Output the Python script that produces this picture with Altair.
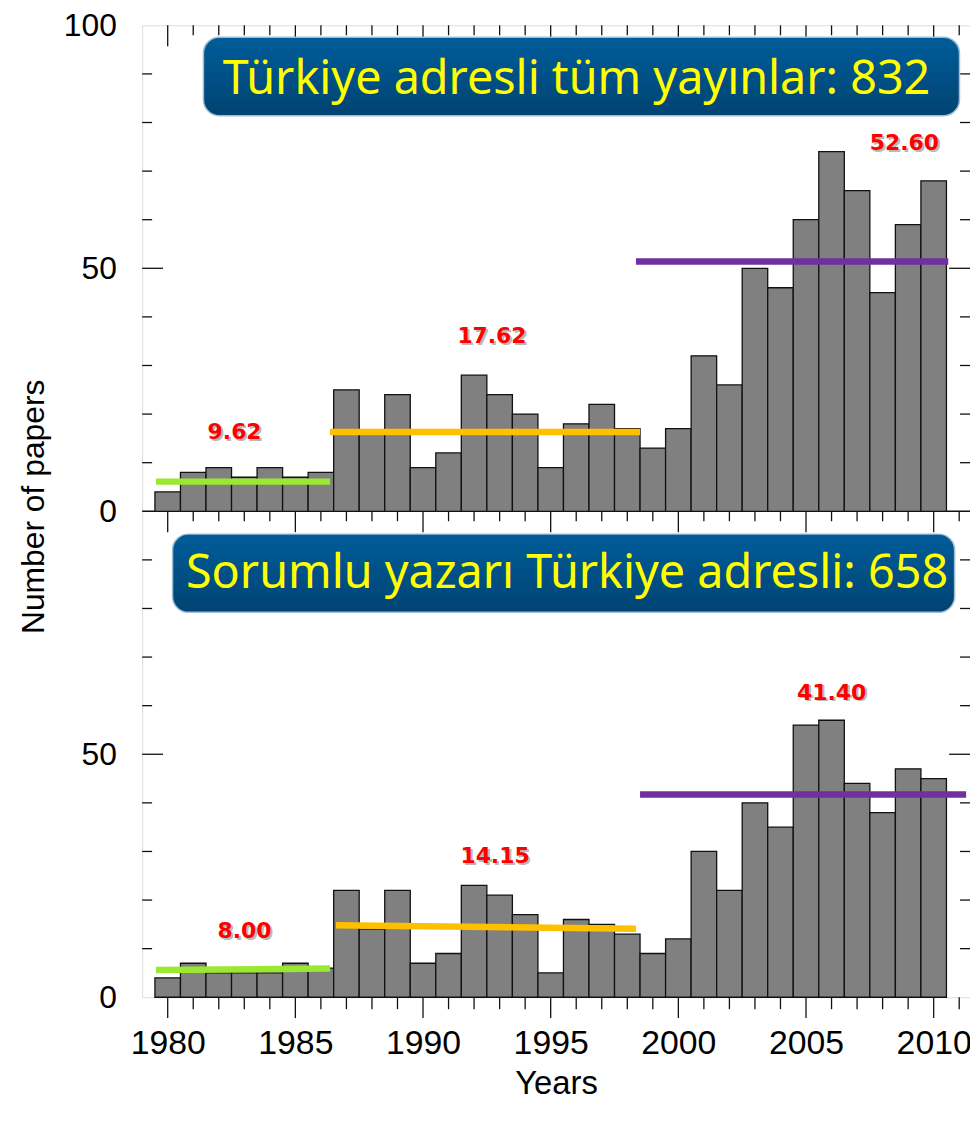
import altair as alt
import pandas as pd

# ---------------- data ----------------
years = list(range(1980, 2011))
top_counts = [4, 8, 9, 7, 9, 7, 8, 25, 16, 24, 9, 12, 28, 24, 20, 9, 18, 22, 17,
              13, 17, 32, 26, 50, 46, 60, 74, 66, 45, 59, 68]
bottom_counts = [4, 7, 5, 5, 5, 7, 6, 22, 14, 22, 7, 9, 23, 21, 17, 5, 16, 15, 13,
                 9, 12, 30, 22, 40, 35, 56, 57, 44, 38, 47, 45]

period_colors = ["#9be830", "#ffc000", "#7030a0"]
top_period_start = [1979.54, 1986.35, 1998.34]
top_period_end = [1986.36, 1998.50, 2010.57]
top_period_level_start = [6.1, 16.3, 51.4]
top_period_level_end = [6.1, 16.3, 51.4]
bottom_period_start = [1979.54, 1986.59, 1998.50]
bottom_period_end = [1986.36, 1998.34, 2011.27]
bottom_period_level_start = [5.6, 14.8, 41.7]
bottom_period_level_end = [5.9, 14.1, 41.7]

top_mean_labels = ["9.62", "17.62", "52.60"]
top_mean_x = [1982.62, 1992.70, 2008.85]
top_mean_y = [16.3, 36.1, 75.7]
bottom_mean_labels = ["8.00", "14.15", "41.40"]
bottom_mean_x = [1983.01, 1992.82, 2006.0]
bottom_mean_y = [13.7, 29.0, 62.7]

panel_titles = ["Türkiye adresli tüm yayınlar: 832", "Sorumlu yazarı Türkiye adresli: 658"]

x_label_values = [1980, 1985, 1990, 1995, 2000, 2005, 2010]
y_label_values = [0, 50, 100, 150, 200]

# ---------------- layout ----------------
W, H = 833, 978
X_MIN = 1979
X_MAX = 1979 + 833 / 25.692
Y_MAX = 200  # two stacked panels of 0..100 each
TOP_BASE, BOTTOM_BASE = 100, 0
px_x = (X_MAX - X_MIN) / W
px_y = Y_MAX / H

xs = alt.Scale(domain=[X_MIN, X_MAX], nice=False, zero=False)
ys = alt.Scale(domain=[0, Y_MAX], nice=False, zero=False)

FONT = "Liberation Sans"
x_axis = alt.Axis(values=x_label_values, format="d", ticks=False, domain=False, grid=False,
                  labelFontSize=34, labelFont=FONT, labelColor="black", labelPadding=30,
                  labelFlush=False, labelOverlap=False,
                  title="Years", titleFont=FONT, titleFontSize=33, titleFontWeight="normal",
                  titleColor="black", titleY=97, titleBaseline="alphabetic")
y_axis = alt.Axis(values=y_label_values,
                  labelExpr="datum.value == 200 ? '100' : (datum.value >= 100 ? format(datum.value - 100, 'd') : format(datum.value, 'd'))",
                  ticks=False, domain=False, grid=False,
                  labelFontSize=32, labelFont=FONT, labelColor="black", labelPadding=26,
                  title="Number of papers", titleFont=FONT, titleFontSize=32,
                  titleFontWeight="normal", titleColor="black",
                  titleX=-109, titleY=484, titleAlign="center", titleBaseline="middle")


def X(f):
    return alt.X(f, type="quantitative", scale=xs, axis=x_axis)


def Y(f):
    return alt.Y(f, type="quantitative", scale=ys, axis=y_axis)


# bars
rows = []
for yr, c in zip(years, top_counts):
    rows.append({"year": yr, "count": c, "base": TOP_BASE})
for yr, c in zip(years, bottom_counts):
    rows.append({"year": yr, "count": c, "base": BOTTOM_BASE})
bars_df = pd.DataFrame(rows)

bars = alt.Chart(bars_df).transform_calculate(
    x0="datum.year - 0.5", x1="datum.year + 0.5",
    y0="datum.base", y1="datum.base + datum.count"
).mark_rect(fill="#808080", stroke="#111111", strokeWidth=1.3).encode(
    x=X("x0"), x2="x1:Q", y=Y("y0"), y2="y1:Q"
)

# tick marks (frame ticks), lengths in pixels converted to data units
tick_rows = []
for yr in range(1980, 2012):
    major = yr % 5 == 0
    for level, ln in [(200, 21 if major else 10), (100, 21 if major else 10), (0, 21 if major else 12)]:
        tick_rows.append({"x1": yr, "x2": yr, "y1": level, "y2": level - ln * px_y})
for base in [TOP_BASE, BOTTOM_BASE]:
    for v in range(10, 100, 10):
        ln = 21 if v == 50 else 10
        tick_rows.append({"x1": X_MIN, "x2": X_MIN + ln * px_x, "y1": base + v, "y2": base + v})
        tick_rows.append({"x1": X_MAX, "x2": X_MAX - ln * px_x, "y1": base + v, "y2": base + v})
ticks = alt.Chart(pd.DataFrame(tick_rows)).mark_rule(color="#111111", strokeWidth=1.3).encode(
    x=X("x1"), x2="x2:Q", y=Y("y1"), y2="y2:Q"
)

mid_line = alt.Chart(pd.DataFrame({"y": [TOP_BASE]})).mark_rule(color="#111111", strokeWidth=1.5).encode(
    y=Y("y")
)

# period average lines
prow = []
for s, e, l0, l1, c in zip(top_period_start, top_period_end, top_period_level_start, top_period_level_end, period_colors):
    prow.append({"s": s, "e": e, "l0": l0 + TOP_BASE, "l1": l1 + TOP_BASE, "c": c})
for s, e, l0, l1, c in zip(bottom_period_start, bottom_period_end, bottom_period_level_start, bottom_period_level_end, period_colors):
    prow.append({"s": s, "e": e, "l0": l0 + BOTTOM_BASE, "l1": l1 + BOTTOM_BASE, "c": c})
periods = alt.Chart(pd.DataFrame(prow)).mark_rule(strokeWidth=6.5).encode(
    x=X("s"), x2="e:Q", y=Y("l0"), y2="l1:Q", color=alt.Color("c:N", scale=None)
)

# mean labels
mrow = []
for t, xv, yv in zip(top_mean_labels, top_mean_x, top_mean_y):
    mrow.append({"t": t, "x": xv, "y": yv + TOP_BASE})
for t, xv, yv in zip(bottom_mean_labels, bottom_mean_x, bottom_mean_y):
    mrow.append({"t": t, "x": xv, "y": yv + BOTTOM_BASE})
mean_df = pd.DataFrame(mrow)
mean_shadow = alt.Chart(mean_df).mark_text(font="DejaVu Sans", fontWeight="bold", fontSize=22,
                                            color="#808080", opacity=0.55, dx=2, dy=2,
                                            baseline="middle", align="center").encode(
    x=X("x"), y=Y("y"), text="t:N")
mean_text = alt.Chart(mean_df).mark_text(font="DejaVu Sans", fontWeight="bold", fontSize=22,
                                          color="#ff0000", baseline="middle", align="center").encode(
    x=X("x"), y=Y("y"), text="t:N")

# title boxes
box_df = pd.DataFrame({
    "t": panel_titles,
    "x1": [1981.40, 1980.19], "x2": [2011.01, 2010.82],
    "y1": [197.55, 95.3], "y2": [181.4, 79.2],
    "tx": [1996.01, 1995.64], "ty": [185.9, 84.3],
})
grad = alt.LinearGradient(gradient="linear",
                          stops=[alt.GradientStop(offset=0, color="#005d9a"),
                                 alt.GradientStop(offset=1, color="#004372")],
                          x1=0, x2=0, y1=0, y2=1)
box_shadow = alt.Chart(box_df).mark_rect(cornerRadius=16, fill="#000000", opacity=0.18,
                                         xOffset=2, yOffset=3).encode(
    x=X("x1"), x2="x2:Q", y=Y("y1"), y2="y2:Q")
boxes = alt.Chart(box_df).mark_rect(cornerRadius=16, fill=grad, stroke="#9fbdd4", strokeWidth=1.5).encode(
    x=X("x1"), x2="x2:Q", y=Y("y1"), y2="y2:Q")
box_text = alt.Chart(box_df).mark_text(font="Noto Sans", fontSize=47, color="#ffff00",
                                        baseline="alphabetic", align="center").encode(
    x=X("tx"), y=Y("ty"), text="t:N")

chart = alt.layer(ticks, mid_line, bars, periods, box_shadow, boxes, box_text, mean_shadow, mean_text).properties(
    width=W, height=H,
    autosize=alt.AutoSizeParams(type="none"),
    padding={"left": 135, "top": 14, "right": 0, "bottom": 105},
).configure_view(stroke="#111111", strokeWidth=1.5).configure(background="white")

chart.save("out.html", embed_options={"renderer": "svg", "actions": False})
